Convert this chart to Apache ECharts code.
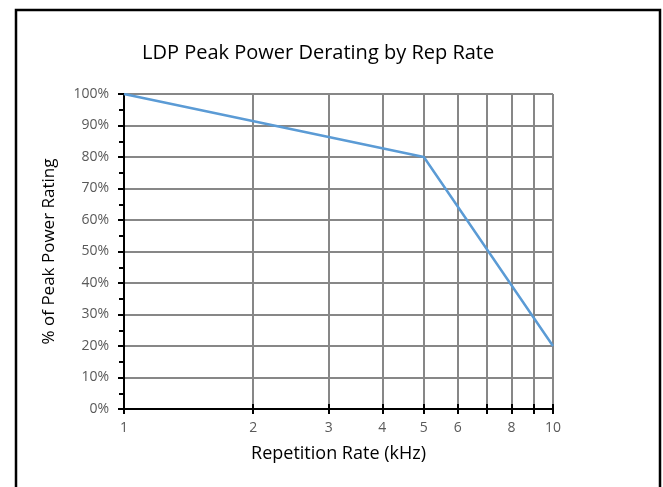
<!DOCTYPE html>
<html><head><meta charset="utf-8">
<script src="https://cdn.jsdelivr.net/npm/echarts@6/dist/echarts.min.js"></script>
<style>html,body{margin:0;padding:0;background:#fff}#c{width:663px;height:487px}</style>
</head><body><div id="c"></div>
<script>
const titleText = 'LDP Peak Power Derating by Rep Rate';
const xTitle = 'Repetition Rate (kHz)';
const yTitle = '% of Peak Power Rating';
const xValues = [1, 5, 10];
const yValues = [100, 80, 20];
const xGridValues = [1, 2, 3, 4, 5, 6, 7, 8, 9, 10];
const xLabelValues = [1, 2, 3, 4, 5, 6, 8, 10];

const FONT = '"Open Sans", "Noto Sans", sans-serif';
const gridRect = {left: 124, right: 110, top: 94, bottom: 78};
const chart = echarts.init(document.getElementById('c'));
chart.setOption({
  backgroundColor: '#fff',
  animation: false,
  title: {text: titleText, left: 137, top: 38, textStyle: {fontFamily: FONT, fontSize: 20, fontWeight: 'normal', color: '#000'}},
  graphic: [{type: 'rect', shape: {x: 16, y: 10, width: 644, height: 520}, style: {fill: null, stroke: '#000', lineWidth: 2.5}, silent: true}],
  grid: [Object.assign({}, gridRect), Object.assign({}, gridRect)],
  xAxis: [{
    type: 'log', logBase: 10, min: 1, max: 10, gridIndex: 0,
    name: xTitle, nameLocation: 'middle', nameGap: 36,
    nameTextStyle: {fontFamily: FONT, fontSize: 18, color: '#000'},
    axisLine: {show: true, lineStyle: {color: '#000', width: 2}},
    axisTick: {show: true, inside: false, length: 5, customValues: xGridValues, lineStyle: {color: '#000', width: 2}},
    axisLabel: {customValues: xLabelValues, fontFamily: FONT, fontSize: 14, color: '#595959', margin: 12},
    splitLine: {show: true, lineStyle: {color: '#878787', width: 2}},
    minorTick: {show: false}, minorSplitLine: {show: false}
  }, {
    type: 'log', logBase: 10, min: 1, max: 10, gridIndex: 1,
    axisLine: {show: false},
    axisTick: {show: true, inside: true, length: 5, customValues: xGridValues.slice(1), lineStyle: {color: '#000', width: 2}},
    axisLabel: {show: false}, splitLine: {show: false}
  }],
  yAxis: [{
    type: 'value', min: 0, max: 100, interval: 10, gridIndex: 0,
    name: yTitle, nameLocation: 'middle', nameGap: 66,
    nameTextStyle: {fontFamily: FONT, fontSize: 17, color: '#000'},
    axisLine: {show: true, lineStyle: {color: '#000', width: 2}},
    axisTick: {show: true, inside: false, length: 6, lineStyle: {color: '#000', width: 2}},
    minorTick: {show: true, splitNumber: 2, length: 5, lineStyle: {color: '#000', width: 2}},
    axisLabel: {formatter: '{value}%', fontFamily: FONT, fontSize: 14, color: '#595959', margin: 15},
    splitLine: {show: true, lineStyle: {color: '#878787', width: 2}}
  }, {
    type: 'value', min: 0, max: 100, interval: 10, gridIndex: 1,
    axisLine: {show: false},
    axisTick: {show: false},
    minorTick: {show: true, splitNumber: 2, length: 5, lineStyle: {color: '#000', width: 2}},
    axisLabel: {show: false}, splitLine: {show: false}
  }],
  series: [{
    type: 'line', xAxisIndex: 0, yAxisIndex: 0,
    data: xValues.map((x, i) => [x, yValues[i]]),
    symbol: 'none', lineStyle: {color: '#5B9BD5', width: 2.5}, z: 5
  }]
});
</script></body></html>
